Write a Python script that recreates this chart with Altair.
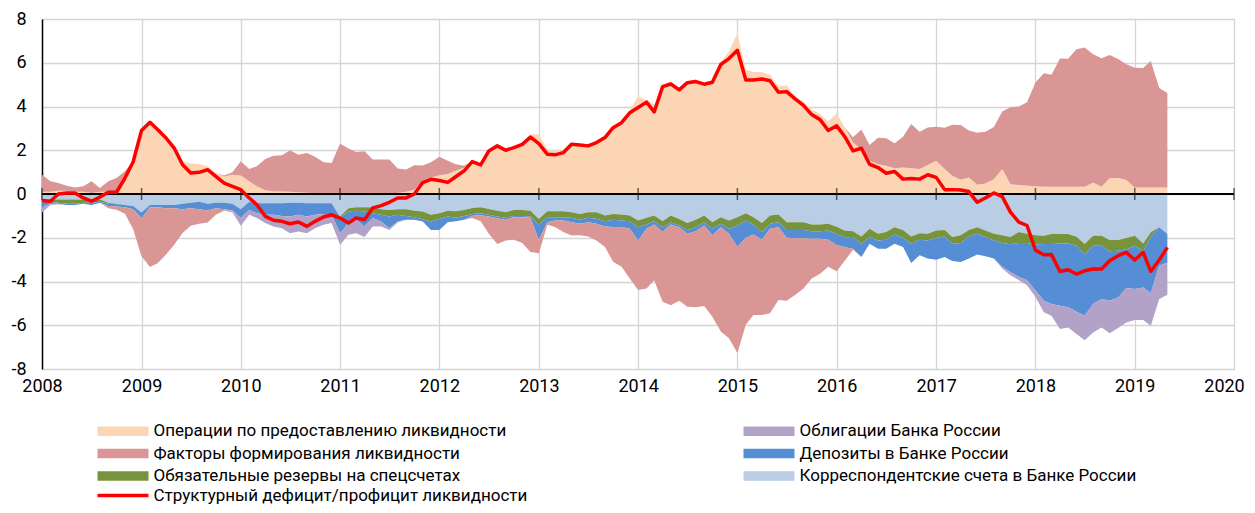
import altair as alt
import pandas as pd

# ---------------- data (monthly, Jan 2008 .. May 2019), trillion roubles ----------------
N_MONTHS = 137
months = pd.date_range("2008-01-01", periods=N_MONTHS, freq="MS")
years = list(range(2008, 2021))

L_OPS = "Операции по предоставлению ликвидности"
L_FAC = "Факторы формирования ликвидности"
L_RES = "Обязательные резервы на спецсчетах"
L_RED = "Структурный дефицит/профицит ликвидности"
L_BONDS = "Облигации Банка России"
L_DEP = "Депозиты в Банке России"
L_CORR = "Корреспондентские счета в Банке России"

ops = [
    0.1, 0.1, 0.15, 0.15, 0.1, 0.1, 0.05, 0.1, 0.1, 0.15, 0.75, 1.5,
    2.95, 3.3, 3.0, 2.65, 2.25, 1.5, 1.39, 1.37, 1.27, 0.96, 0.8, 0.88,
    0.85, 0.58, 0.35, 0.17, 0.12, 0.12, 0.1, 0.08, 0.06, 0.05, 0.05, 0.05,
    0.05, 0.05, 0.05, 0.05, 0.05, 0.05, 0.05, 0.05, 0.1, 0.2, 0.6, 0.75,
    0.86, 0.91, 1.06, 1.2, 1.5, 1.44, 2.0, 2.24, 2.05, 2.15, 2.3, 2.73,
    2.73, 2.05, 1.97, 2.05, 2.3, 2.27, 2.22, 2.38, 2.62, 3.06, 3.3, 3.79,
    4.47, 4.27, 4.09, 5.0, 5.15, 4.85, 5.15, 5.23, 5.08, 5.18, 6.02, 6.52,
    7.35, 5.68, 5.58, 5.58, 5.45, 4.92, 4.97, 4.47, 4.21, 3.86, 3.67, 3.33,
    3.67, 3.03, 2.35, 2.05, 1.52, 1.36, 1.29, 1.18, 1.21, 1.18, 1.14, 1.33,
    1.52, 1.14, 0.83, 0.65, 0.76, 0.42, 0.48, 0.68, 1.14, 0.45, 0.41, 0.38,
    0.35, 0.33, 0.33, 0.33, 0.33, 0.33, 0.33, 0.53, 0.33, 0.73, 0.73, 0.64,
    0.3, 0.3, 0.3, 0.3, 0.3,
]

factors_pos = [
    0.78, 0.48, 0.35, 0.23, 0.2, 0.25, 0.53, 0.17, 0.48, 0.58, 0.29, 0.0,
    0, 0, 0, 0, 0, 0, 0, 0, 0, 0, 0.05, 0.12,
    0.65, 0.56, 0.92, 1.43, 1.63, 1.65, 1.9, 1.72, 1.82, 1.65, 1.4, 1.37,
    2.25, 2.03, 1.87, 1.9, 1.53, 1.53, 1.53, 1.12, 1.02, 1.12, 0.7, 0.7,
    0.84, 0.61, 0.3, 0.09, 0, 0, 0, 0, 0, 0, 0, 0,
    0, 0, 0, 0, 0, 0, 0, 0, 0, 0, 0, 0,
    0, 0, 0, 0, 0, 0, 0, 0, 0, 0, 0, 0,
    0, 0, 0, 0, 0, 0, 0, 0, 0, 0, 0, 0,
    0, 0, 0.25, 0.9, 0.72, 1.21, 1.26, 1.14, 1.41, 2.02, 1.71, 1.71,
    1.56, 1.89, 2.34, 2.5, 2.14, 2.38, 2.37, 2.38, 2.63, 3.52, 3.59, 3.82,
    4.75, 5.19, 5.12, 5.87, 5.85, 6.29, 6.37, 5.86, 5.88, 5.63, 5.44, 5.29,
    5.47, 5.46, 5.78, 4.55, 4.32,
]

factors_neg = [
    0, 0, 0, 0, 0, 0, 0, 0, -0.1, -0.15, -0.3, -0.9,
    -1.75, -2.74, -2.56, -2.12, -1.67, -1.08, -0.8, -0.66, -0.55, -0.3, -0.05, -0.05,
    0, 0, 0, 0, 0, 0, 0, 0, 0, 0, 0, 0,
    0, 0, 0, 0, 0, 0, 0, 0, 0, 0, 0, 0,
    0, 0, 0, 0, -0.11, -0.27, -0.79, -1.17, -0.94, -1.03, -1.18, -1.56,
    -0.61, -0.11, -0.3, -0.53, -0.61, -0.53, -0.65, -0.76, -0.94, -1.59, -1.82, -2.27,
    -2.27, -2.73, -2.55, -3.18, -3.69, -3.36, -3.33, -3.48, -3.68, -3.72, -4.77, -4.77,
    -4.85, -3.98, -3.68, -3.44, -3.86, -3.33, -2.88, -2.6, -2.3, -1.81, -1.59, -1.24,
    -1.2, -0.6, -0.05, 0, 0, 0, 0, 0, 0, 0, 0, 0,
    0, 0, 0, 0, 0, 0, 0, 0, 0, 0, 0, 0,
    0, 0, 0, 0, 0, 0, 0, 0, 0, 0, 0, 0,
    0, 0, 0, 0, 0,
]

corr_accounts = [
    -0.3, -0.25, -0.25, -0.25, -0.25, -0.25, -0.3, -0.25, -0.4, -0.45, -0.5, -0.55,
    -0.85, -0.5, -0.5, -0.5, -0.5, -0.45, -0.4, -0.35, -0.45, -0.4, -0.4, -0.45,
    -0.7, -0.35, -0.42, -0.42, -0.42, -0.42, -0.4, -0.4, -0.42, -0.42, -0.42, -0.42,
    -1.03, -0.65, -0.6, -0.6, -0.6, -0.7, -0.73, -0.7, -0.7, -0.76, -0.8, -0.95,
    -0.88, -0.76, -0.79, -0.73, -0.64, -0.61, -0.68, -0.76, -0.83, -0.73, -0.73, -0.76,
    -1.14, -0.79, -0.79, -0.79, -0.83, -0.91, -0.83, -0.83, -0.98, -0.91, -0.94, -0.98,
    -1.21, -1.09, -0.98, -1.24, -0.98, -1.14, -1.33, -1.18, -0.98, -1.29, -1.06, -1.21,
    -1.06, -0.88, -1.06, -1.33, -0.98, -0.94, -1.29, -1.29, -1.29, -1.39, -1.39, -1.36,
    -1.5, -1.68, -1.7, -1.94, -1.59, -1.82, -1.74, -1.52, -1.64, -1.94, -1.79, -1.82,
    -1.67, -1.64, -1.97, -1.89, -1.64, -1.52, -1.67, -1.82, -1.89, -1.97, -1.74, -1.82,
    -1.88, -1.91, -1.83, -1.83, -1.83, -1.95, -2.29, -1.91, -1.91, -2.1, -2.1, -2.01,
    -1.91, -2.26, -1.75, -1.52, -1.83,
]

reserves = [
    -0.05, -0.1, -0.15, -0.2, -0.2, -0.15, -0.1, -0.1, -0.05, -0.02, 0, 0,
    0, 0, 0, 0, 0, 0, 0, 0, 0, 0, 0, 0,
    0, 0, 0, 0, 0, 0, 0, 0, 0, 0, 0, 0,
    -0.05, -0.15, -0.16, -0.2, -0.28, -0.25, -0.3, -0.25, -0.3, -0.3, -0.35, -0.31,
    -0.26, -0.27, -0.3, -0.27, -0.27, -0.27, -0.27, -0.27, -0.26, -0.27, -0.27, -0.27,
    -0.26, -0.27, -0.27, -0.27, -0.26, -0.27, -0.26, -0.3, -0.26, -0.27, -0.27, -0.26,
    -0.31, -0.3, -0.26, -0.28, -0.31, -0.3, -0.31, -0.34, -0.31, -0.3, -0.3, -0.38,
    -0.38, -0.33, -0.33, -0.41, -0.38, -0.35, -0.35, -0.35, -0.35, -0.31, -0.31, -0.31,
    -0.33, -0.3, -0.27, -0.33, -0.38, -0.3, -0.35, -0.33, -0.36, -0.33, -0.3, -0.3,
    -0.33, -0.3, -0.3, -0.35, -0.3, -0.3, -0.3, -0.3, -0.35, -0.33, -0.5, -0.42,
    -0.43, -0.38, -0.46, -0.43, -0.43, -0.41, -0.48, -0.45, -0.45, -0.52, -0.49, -0.51,
    -0.45, -0.36, -0.2, 0, 0,
]

deposits = [
    -0.25, -0.1, -0.05, -0.05, -0.05, -0.05, -0.1, -0.05, -0.1, -0.1, -0.1, -0.15,
    -0.25, -0.1, -0.1, -0.15, -0.15, -0.25, -0.25, -0.35, -0.3, -0.25, -0.3, -0.3,
    -0.4, -0.38, -0.46, -0.53, -0.53, -0.58, -0.63, -0.55, -0.61, -0.53, -0.49, -0.53,
    -0.71, -0.53, -0.42, -0.68, -0.22, -0.31, -0.53, -0.31, -0.18, -0.12, -0.11, -0.38,
    -0.5, -0.26, -0.15, -0.18, -0.08, -0.09, -0.08, -0.08, -0.09, -0.06, -0.06, -0.06,
    -0.7, -0.23, -0.15, -0.15, -0.2, -0.18, -0.2, -0.23, -0.24, -0.33, -0.3, -0.35,
    -0.6, -0.2, -0.15, -0.22, -0.1, -0.08, -0.18, -0.18, -0.15, -0.3, -0.16, -0.23,
    -0.98, -0.79, -0.46, -0.35, -0.23, -0.23, -0.36, -0.38, -0.38, -0.35, -0.35, -0.42,
    -0.5, -0.45, -0.53, -0.61, -0.3, -0.38, -0.41, -0.42, -0.42, -0.88, -0.71, -0.83,
    -1.0, -0.94, -0.79, -0.87, -1.01, -0.94, -0.88, -0.83, -1.09, -1.26, -1.55, -1.7,
    -2.1, -2.59, -2.74, -2.85, -2.92, -3.02, -2.79, -2.67, -2.44, -2.26, -2.14, -1.78,
    -1.98, -1.65, -2.59, -1.76, -1.3,
]

bonds = [
    -0.25, -0.05, -0.02, 0, 0, 0, 0, 0, 0, 0, 0, 0,
    0, 0, 0, 0, 0, 0, 0, 0, 0, 0, 0, -0.05,
    -0.35, -0.22, -0.22, -0.38, -0.53, -0.56, -0.76, -0.76, -0.76, -0.61, -0.5, -0.38,
    -0.53, -0.53, -0.61, -0.49, -0.38, -0.22, -0.08, -0.04, 0, 0, 0, 0,
    0, 0, 0, 0, 0, 0, 0, 0, 0, 0, 0, 0,
    0, 0, 0, 0, 0, 0, 0, 0, 0, 0, 0, 0,
    0, 0, 0, 0, 0, 0, 0, 0, 0, 0, 0, 0,
    0, 0, 0, 0, 0, 0, 0, 0, 0, 0, 0, 0,
    0, 0, 0, 0, 0, 0, 0, 0, 0, 0, 0, 0,
    0, 0, 0, 0, 0, 0, 0, 0, -0.08, -0.15, -0.15, -0.23,
    -0.3, -0.53, -0.53, -1.06, -0.92, -1.02, -1.12, -1.3, -1.3, -1.49, -1.4, -1.57,
    -1.42, -1.49, -1.48, -1.52, -1.47,
]

structural = [
    -0.3, -0.33, 0, 0.05, 0.05, -0.18, -0.33, -0.14, 0.08, 0.08, 0.73, 1.46,
    2.9, 3.28, 2.95, 2.56, 2.1, 1.34, 0.96, 0.99, 1.11, 0.81, 0.5, 0.35,
    0.2, -0.18, -0.49, -1.02, -1.2, -1.25, -1.36, -1.28, -1.48, -1.25, -1.05, -0.95,
    -1.1, -1.33, -1.1, -1.18, -0.64, -0.53, -0.38, -0.18, -0.18, 0, 0.52, 0.67,
    0.62, 0.53, 0.79, 1.06, 1.48, 1.33, 1.97, 2.2, 2.0, 2.12, 2.27, 2.6,
    2.3, 1.82, 1.79, 1.89, 2.27, 2.24, 2.2, 2.35, 2.58, 3.03, 3.26, 3.71,
    3.95, 4.2, 3.75, 4.91, 5.03, 4.76, 5.09, 5.14, 5.02, 5.11, 5.92, 6.19,
    6.57, 5.21, 5.21, 5.26, 5.18, 4.65, 4.68, 4.35, 4.05, 3.63, 3.4, 2.9,
    3.12, 2.6, 1.97, 2.09, 1.36, 1.21, 0.95, 1.03, 0.68, 0.71, 0.68, 0.88,
    0.76, 0.2, 0.2, 0.18, 0.11, -0.38, -0.18, 0.05, -0.12, -0.83, -1.29, -1.44,
    -2.57, -2.78, -2.77, -3.54, -3.46, -3.66, -3.51, -3.43, -3.43, -3.05, -2.82, -2.67,
    -3.02, -2.67, -3.54, -3.02, -2.44,
]

# legend order (column-major, two columns of three) and colours
legend_labels = [L_OPS, L_FAC, L_RES, L_BONDS, L_DEP, L_CORR]
legend_colors = ["#FCD5B5", "#D99694", "#77933C", "#B3A2C7", "#558ED5", "#B9CDE5"]

# stacking: positives from 0 upwards, negatives from 0 downwards
series = [
    ("ops", L_OPS, ops, 0, "pos"),
    ("fpos", L_FAC, factors_pos, 1, "pos"),
    ("corr", L_CORR, corr_accounts, 2, "neg"),
    ("res", L_RES, reserves, 3, "neg"),
    ("dep", L_DEP, deposits, 4, "neg"),
    ("bonds", L_BONDS, bonds, 5, "neg"),
    ("fneg", L_FAC, factors_neg, 6, "neg"),
]

rows = []
for key, lab, vals, o, side in series:
    assert len(vals) == N_MONTHS, (key, len(vals))
    for d, v in zip(months, vals):
        rows.append({"date": d, "value": v, "key": key, "label": lab, "ord": o, "side": side})
area_df = pd.DataFrame(rows)

assert len(structural) == N_MONTHS
line_df = pd.DataFrame({"date": months, "value": structural, "label": L_RED})
ticks_df = pd.DataFrame({"date": pd.to_datetime([f"{y}-01-01" for y in years]), "zero": 0})

FONT = "Roboto"
LEG_FONT_SIZE = 17

x_scale = alt.Scale(domain=[alt.DateTime(year=2008, month=1, date=1),
                            alt.DateTime(year=2020, month=1, date=1)])
y_scale = alt.Scale(domain=[-8, 8], nice=False)

x_axis = alt.Axis(
    values=[alt.DateTime(year=y, month=1, date=1) for y in years],
    format="%Y", domain=False, ticks=False, tickSize=0,
    grid=True, gridColor="#D4D4D4", gridWidth=1.3,
    labelFont=FONT, labelFontSize=18, labelColor="black", labelPadding=8,
    labelFlush=False, title=None,
    labelOffset={"condition": {"test": "year(datum.value) == 2020", "value": -10}, "value": 0},
)
y_axis = alt.Axis(
    values=list(range(-8, 9, 2)), labelExpr="'' + datum.value",
    domain=True, domainColor="black", domainWidth=1.5,
    ticks=False, tickSize=0,
    grid=True, gridColor="#D4D4D4", gridWidth=1.3,
    labelFont=FONT, labelFontSize=18, labelColor="black", labelPadding=16,
    title=None,
)

area = alt.Chart(area_df).transform_calculate(
    v="datum.side == 'neg' && datum.value == 0 ? -1e-9 : datum.value"
).mark_area(interpolate="linear", strokeWidth=0).encode(
    x=alt.X("date:T", scale=x_scale, axis=x_axis),
    y=alt.Y("v:Q", stack="zero", scale=y_scale, axis=y_axis),
    color=alt.Color(
        "label:N",
        scale=alt.Scale(domain=legend_labels, range=legend_colors),
        legend=alt.Legend(
            title=None, orient="none", legendX=72.5, legendY=403.5,
            columns=2, columnPadding=237, rowPadding=4.5, padding=0,
            symbolType="M-4.25,-0.8H4.25V0.8H-4.25Z", symbolSize=144,
            symbolStrokeWidth=0, symbolOpacity=1,
            labelFont=FONT, labelFontSize=LEG_FONT_SIZE, labelColor="black",
            labelOffset=22, labelLimit=700,
        ),
    ),
    detail="key:N",
    order=alt.Order("ord:Q", sort="ascending"),
)

zero_line = alt.Chart(ticks_df).mark_rule(color="black", strokeWidth=2.2).encode(
    y=alt.Y("mean(zero):Q", scale=y_scale),
)

year_ticks = alt.Chart(ticks_df).mark_tick(
    orient="vertical", size=12, thickness=1.5, color="#222222"
).encode(
    x=alt.X("date:T", scale=x_scale),
    y=alt.Y("zero:Q", scale=y_scale),
)

line = alt.Chart(line_df).mark_line(strokeWidth=3.5, strokeJoin="round").encode(
    x=alt.X("date:T", scale=x_scale),
    y=alt.Y("value:Q", scale=y_scale),
    stroke=alt.Stroke(
        "label:N",
        scale=alt.Scale(domain=[L_RED], range=["#FF0000"]),
        legend=alt.Legend(
            title=None, orient="none", legendX=72.5, legendY=468, padding=0,
            symbolType="M-4.25,0H4.25", symbolSize=144, symbolStrokeWidth=3.5,
            labelFont=FONT, labelFontSize=LEG_FONT_SIZE, labelColor="black",
            labelOffset=22, labelLimit=700,
        ),
    ),
)

chart = alt.layer(area, zero_line, year_ticks, line).properties(
    width=1192, height=350,
    padding={"left": 34, "top": 11, "right": 13, "bottom": 136},
    autosize=alt.AutoSizeParams(type="none"),
).configure_view(stroke=None).configure(font=FONT)

chart.save("out.html", embed_options={"renderer": "svg", "actions": False})
